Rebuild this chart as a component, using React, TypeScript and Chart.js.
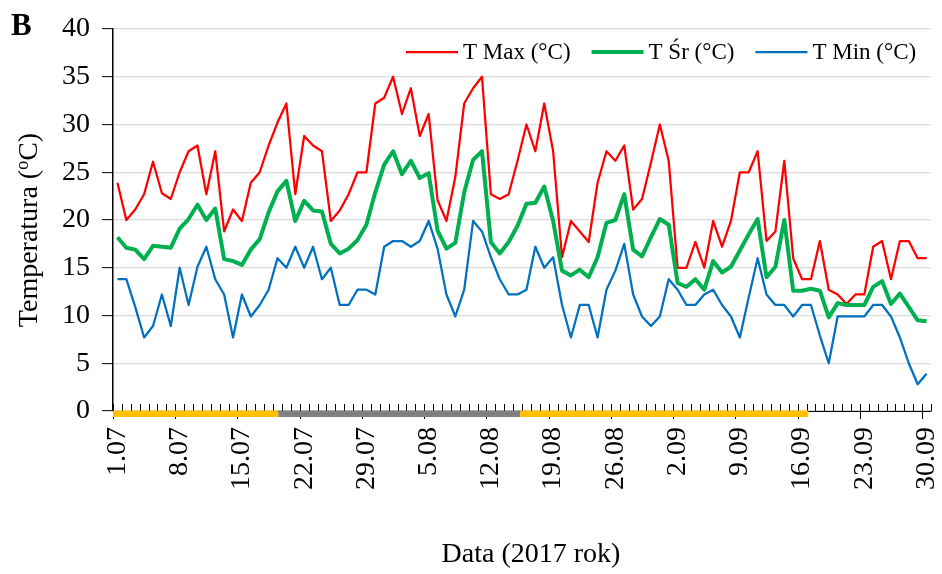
import { useEffect, useRef } from 'react';
import { Chart, registerables } from 'chart.js';

Chart.register(...registerables);

const SERIF = "'Liberation Serif', 'Times New Roman', Times, serif";

// Daily dates, 1 July – 30 September 2017
const dates = [
  '1.07', '2.07', '3.07', '4.07', '5.07', '6.07', '7.07', '8.07', '9.07', '10.07',
  '11.07', '12.07', '13.07', '14.07', '15.07', '16.07', '17.07', '18.07', '19.07', '20.07',
  '21.07', '22.07', '23.07', '24.07', '25.07', '26.07', '27.07', '28.07', '29.07', '30.07',
  '31.07', '1.08', '2.08', '3.08', '4.08', '5.08', '6.08', '7.08', '8.08', '9.08',
  '10.08', '11.08', '12.08', '13.08', '14.08', '15.08', '16.08', '17.08', '18.08', '19.08',
  '20.08', '21.08', '22.08', '23.08', '24.08', '25.08', '26.08', '27.08', '28.08', '29.08',
  '30.08', '31.08', '1.09', '2.09', '3.09', '4.09', '5.09', '6.09', '7.09', '8.09',
  '9.09', '10.09', '11.09', '12.09', '13.09', '14.09', '15.09', '16.09', '17.09', '18.09',
  '19.09', '20.09', '21.09', '22.09', '23.09', '24.09', '25.09', '26.09', '27.09', '28.09',
  '29.09', '30.09',
];

// Maximum daily temperature (°C)
const tMax = [
  23.9, 20.0, 21.1, 22.7, 26.1, 22.8, 22.2, 25.0, 27.2, 27.8,
  22.7, 27.2, 18.8, 21.1, 19.9, 23.9, 25.0, 27.8, 30.2, 32.2,
  22.7, 28.8, 27.8, 27.2, 19.9, 21.0, 22.7, 25.0, 25.0, 32.2,
  32.8, 35.0, 31.1, 33.8, 28.8, 31.1, 22.1, 19.9, 24.5, 32.2,
  33.8, 35.0, 22.7, 22.2, 22.7, 26.2, 30.0, 27.2, 32.2, 27.2,
  16.1, 19.9, 18.8, 17.7, 23.9, 27.2, 26.2, 27.8, 21.1, 22.2,
  26.0, 30.0, 26.2, 15.0, 15.0, 17.7, 15.0, 19.9, 17.2, 19.9,
  25.0, 25.0, 27.2, 17.8, 18.8, 26.2, 16.0, 13.8, 13.8, 17.8,
  12.7, 12.2, 11.2, 12.2, 12.2, 17.2, 17.8, 13.8, 17.8, 17.8,
  16.0, 16.0,
];

// Mean daily temperature (°C)
const tSr = [
  18.2, 17.1, 16.9, 15.9, 17.3, 17.2, 17.1, 19.1, 20.1, 21.6,
  20.0, 21.2, 15.9, 15.7, 15.3, 16.9, 18.0, 20.8, 23.0, 24.1,
  19.9, 22.0, 21.0, 20.9, 17.5, 16.5, 17.0, 17.9, 19.5, 22.9,
  25.8, 27.2, 24.8, 26.2, 24.4, 24.9, 18.9, 17.0, 17.6, 22.9,
  26.3, 27.2, 17.7, 16.5, 17.7, 19.4, 21.7, 21.8, 23.5, 19.9,
  14.7, 14.2, 14.8, 14.0, 16.1, 19.7, 20.0, 22.7, 16.9, 16.2,
  18.2, 20.1, 19.5, 13.4, 13.0, 13.8, 12.7, 15.7, 14.5, 15.1,
  16.8, 18.5, 20.1, 14.0, 15.1, 20.0, 12.6, 12.6, 12.8, 12.6,
  9.8, 11.3, 11.1, 11.1, 11.1, 13.0, 13.6, 11.2, 12.3, 10.9,
  9.5, 9.4,
];

// Minimum daily temperature (°C)
const tMin = [
  13.8, 13.8, 10.9, 7.7, 8.9, 12.2, 8.9, 15.0, 11.1, 15.1,
  17.2, 13.8, 12.2, 7.7, 12.2, 9.9, 11.1, 12.7, 16.0, 15.0,
  17.2, 15.0, 17.2, 13.8, 15.0, 11.1, 11.1, 12.7, 12.7, 12.2,
  17.2, 17.8, 17.8, 17.2, 17.8, 19.9, 17.0, 12.2, 9.9, 12.7,
  19.9, 18.8, 16.1, 13.8, 12.2, 12.2, 12.7, 17.2, 15.0, 16.1,
  11.1, 7.7, 11.1, 11.1, 7.7, 12.7, 14.7, 17.5, 12.2, 9.9,
  8.9, 9.9, 13.8, 12.7, 11.1, 11.1, 12.2, 12.7, 11.1, 9.9,
  7.7, 11.9, 16.0, 12.2, 11.1, 11.1, 9.9, 11.1, 11.1, 7.9,
  5.0, 9.9, 9.9, 9.9, 9.9, 11.1, 11.1, 9.9, 7.7, 5.0,
  2.8, 3.9,
];

// Series names
const seriesNames = ['T Max (°C)', 'T Śr (°C)', 'T Min (°C)'];

// Y axis range and step
const yMin = 0;
const yMax = 40;
const yStep = 5;

// Periods marked along the date axis (in day-index units)
const periodStart = [-0.5, 18.1, 45.3];
const periodEnd = [18.1, 45.3, 77.7];
const periodColors = ['#FFC000', '#808080', '#FFC000'];

const labelEvery = 7;

const overlay = {
  id: 'overlay',
  afterDraw(chart: any) {
    const { ctx, chartArea, scales } = chart;
    const xs = scales.x;
    const base = chartArea.bottom;
    const n = chart.data.labels.length;
    ctx.save();

    // date axis line and day ticks
    ctx.strokeStyle = '#000';
    ctx.lineWidth = 1;
    ctx.beginPath();
    ctx.moveTo(chartArea.left, base + 0.5);
    ctx.lineTo(chartArea.right, base + 0.5);
    ctx.stroke();
    for (let k = 0; k <= n; k++) {
      const px = Math.round(xs.getPixelForValue(k - 0.5)) + 0.5;
      ctx.beginPath();
      ctx.moveTo(px, base - 7);
      ctx.lineTo(px, k % labelEvery === 0 ? base + 8 : base + 0.5);
      ctx.stroke();
    }

    // period bands
    periodStart.forEach((s, i) => {
      const x0 = xs.getPixelForValue(s);
      const x1 = xs.getPixelForValue(periodEnd[i]);
      ctx.fillStyle = periodColors[i];
      ctx.fillRect(x0, base - 0.5, x1 - x0, 6.5);
    });

    // legend
    ctx.font = `23px ${SERIF}`;
    ctx.textBaseline = 'middle';
    ctx.textAlign = 'left';
    let lx = 406;
    const ly = 52;
    chart.data.datasets.forEach((ds: any) => {
      ctx.strokeStyle = ds.borderColor;
      ctx.lineWidth = ds.borderWidth;
      ctx.lineCap = 'butt';
      ctx.beginPath();
      ctx.moveTo(lx, ly);
      ctx.lineTo(lx + 52, ly);
      ctx.stroke();
      ctx.fillStyle = '#000';
      ctx.fillText(ds.label, lx + 57, ly + 1);
      lx += 57 + ctx.measureText(ds.label).width + 21;
    });

    // panel letter
    ctx.font = `bold 31px ${SERIF}`;
    ctx.textBaseline = 'alphabetic';
    ctx.fillText('B', 11, 35);

    // y axis title with raised "o"
    ctx.save();
    ctx.translate(28, 230);
    ctx.rotate(-Math.PI / 2);
    const big = `28px ${SERIF}`;
    const small = `18px ${SERIF}`;
    ctx.font = big;
    const p1 = 'Temperatura (';
    const p3 = 'C)';
    const w1 = ctx.measureText(p1).width;
    const w3 = ctx.measureText(p3).width;
    ctx.font = small;
    const w2 = ctx.measureText('o').width;
    const total = w1 + w2 + w3;
    let tx = -total / 2;
    ctx.textBaseline = 'alphabetic';
    ctx.font = big;
    ctx.fillText(p1, tx, 9);
    tx += w1;
    ctx.font = small;
    ctx.fillText('o', tx, 0);
    tx += w2;
    ctx.font = big;
    ctx.fillText(p3, tx, 9);
    ctx.restore();

    // x axis title
    ctx.font = `28px ${SERIF}`;
    ctx.textAlign = 'center';
    ctx.textBaseline = 'middle';
    ctx.fillText('Data (2017 rok)', 531, 555);

    ctx.restore();
  },
};

export default function App() {
  const canvasRef = useRef<HTMLCanvasElement>(null);

  useEffect(() => {
    const canvas = canvasRef.current;
    if (!canvas) return;
    const tickFont = { family: SERIF, size: 28 };
    const chart = new Chart(canvas, {
      type: 'line',
      data: {
        labels: dates,
        datasets: [
          { label: seriesNames[0], data: tMax, borderColor: '#FF0000', backgroundColor: '#FF0000', borderWidth: 2.25, pointRadius: 0, borderJoinStyle: 'round', order: 3 },
          { label: seriesNames[1], data: tSr, borderColor: '#00B050', backgroundColor: '#00B050', borderWidth: 4, pointRadius: 0, borderJoinStyle: 'round', order: 2 },
          { label: seriesNames[2], data: tMin, borderColor: '#0070C0', backgroundColor: '#0070C0', borderWidth: 2.25, pointRadius: 0, borderJoinStyle: 'round', order: 1 },
        ],
      },
      options: {
        responsive: false,
        animation: false,
        events: [],
        layout: { padding: { left: 0, top: 29, right: 11, bottom: 0 } },
        plugins: { legend: { display: false }, tooltip: { enabled: false } },
        scales: {
          x: {
            type: 'category',
            offset: true,
            grid: { display: false, drawTicks: false, offset: true },
            border: { display: false },
            ticks: {
              autoSkip: false,
              minRotation: 90,
              maxRotation: 90,
              padding: 16,
              color: '#000',
              font: tickFont,
              callback: (_v: any, i: number) => (i % labelEvery === 0 ? dates[i] : ''),
            },
            afterFit: (s: any) => {
              s.height = 163;
              s.paddingLeft = 0;
              s.paddingRight = 0;
            },
          },
          y: {
            min: yMin,
            max: yMax,
            ticks: { stepSize: yStep, padding: 12, color: '#000', font: tickFont },
            grid: { color: '#d9d9d9', lineWidth: 1.25, tickColor: '#000', tickLength: 11, tickWidth: 1 },
            border: { color: '#000', width: 1.5 },
            afterFit: (s: any) => {
              s.width = 113;
            },
          },
        },
      },
      plugins: [overlay],
    } as any);
    return () => chart.destroy();
  }, []);

  return (
    <div style={{ position: 'absolute', left: 0, top: 0, width: 942, height: 574, background: '#fff' }}>
      <canvas ref={canvasRef} width={942} height={574} style={{ display: 'block' }} />
    </div>
  );
}
